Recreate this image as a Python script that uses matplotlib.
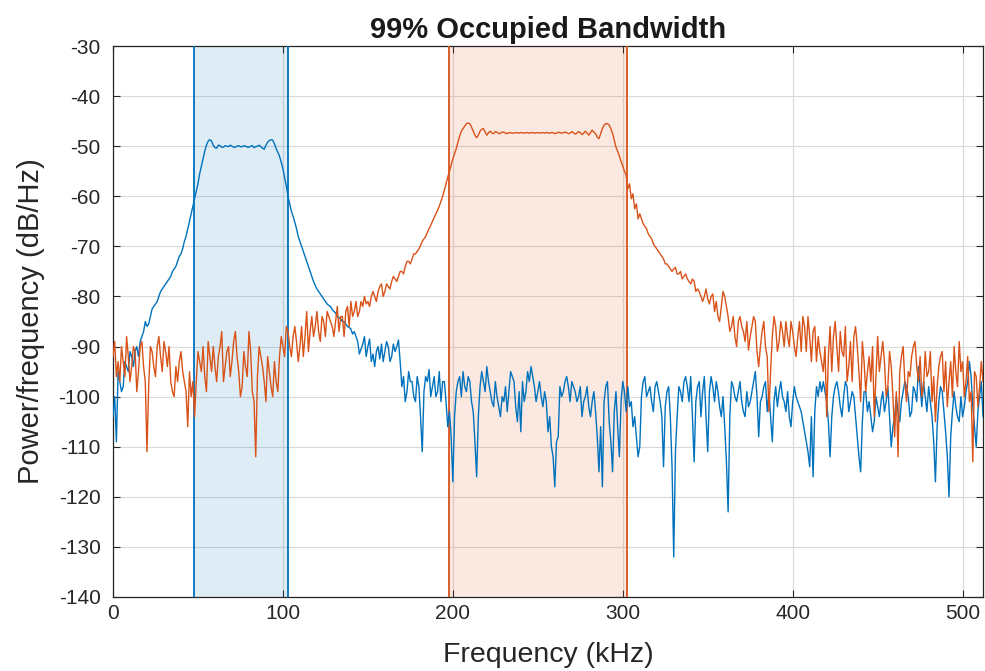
import numpy as np
import matplotlib
matplotlib.use("Agg")
import matplotlib.pyplot as plt

# frequency grid in kHz (1 kHz spacing, 0..512)
freq_khz = np.arange(0, 513)

# PSD of the low-band signal (dB/Hz) at even kHz: 0, 2, ..., 512
psd_low_even = [
    -104, -109, -97, -98, -94, -91, -94, -90, -89, -87,
    -86, -84, -82, -81, -79, -78, -77, -76, -74.5, -73,
    -71.5, -69, -66.5, -63.5, -60.5, -57.5, -54, -51, -49, -49,
    -50.3, -49.8, -50.2, -49.9, -50.1, -50.0, -50.2, -49.9, -50.1, -50.0,
    -50.2, -49.9, -50.1, -49.8, -50.4, -49.8, -48.9, -48.8, -50.5, -52,
    -54.5, -58, -61.5, -64, -66.5, -69, -71, -73, -75, -77,
    -78.5, -79.5, -80.5, -81.5, -82, -83, -84, -84.5, -85, -86,
    -86.5, -87, -89, -90.5, -88, -90, -93, -94, -90, -89.5,
    -91, -90, -92, -91, -88.7, -98, -101, -95, -97, -101,
    -98, -111, -96, -94.6, -98, -100, -95, -97, -101, -103,
    -117, -99, -96, -95, -99, -97, -103, -116, -98, -97,
    -94, -99, -102, -100, -104, -101, -103, -95, -97, -105,
    -107, -101, -95, -94, -98, -99, -100, -99, -107, -110,
    -118, -108, -100, -97, -98, -97, -99, -100, -104, -100,
    -102, -101, -103, -115, -118, -98, -105, -115, -99, -112,
    -97, -103, -102, -106, -108, -110, -97, -100, -98, -103,
    -97, -101, -114, -99, -104, -132, -104, -99, -97, -98,
    -96, -113, -98, -104, -96, -111, -96, -101, -99, -104,
    -106, -123, -97, -100, -99, -101, -104, -102, -99, -95,
    -108, -100, -97, -99, -109, -98, -99, -100, -103, -104,
    -101, -100, -102, -105, -109, -114, -116, -98, -97, -97,
    -101, -112, -100, -97, -102, -100, -98, -101, -100, -108,
    -115, -99, -103, -104, -105, -102, -101, -103, -98, -110,
    -104, -103, -101, -97, -100, -103, -99, -94, -102, -100,
    -98, -104, -117, -101, -99, -107, -120, -103, -102, -105,
    -104, -99, -93, -102, -110, -100, -104,
]

# low-band PSD at odd kHz: 1, 3, ..., 511
psd_low_odd = [
    -100, -95, -99, -93, -95, -92, -91, -92, -88, -85,
    -85.5, -82.5, -81.5, -80, -78.5, -77.5, -76.5, -75, -74, -72,
    -70.5, -68, -65, -62, -59, -55.5, -52.5, -49.8, -48.7, -49.8,
    -50.4, -49.9, -50.2, -50.0, -49.8, -50.2, -50.0, -50.1, -49.9, -50.2,
    -50.0, -50.3, -50.0, -50.1, -50.6, -49.2, -48.7, -49.5, -51.2, -53.2,
    -56.2, -60, -63, -65.2, -68, -70, -72, -74, -76, -77.8,
    -79, -80, -81, -81.8, -82.6, -83.3, -84.2, -85, -85.5, -86.2,
    -87.5, -88, -91.5, -89.5, -92, -88.5, -91.5, -91, -92.5, -93,
    -89, -93, -89.5, -90, -93, -96, -99, -97, -100, -96,
    -104, -99, -97, -100, -96, -99, -101, -97, -106, -108,
    -104, -97, -100, -98, -96, -101, -109, -104, -95, -99,
    -97, -101, -97, -102, -100, -98, -99, -96, -102, -99,
    -97, -99, -97, -96, -101, -97, -102, -101, -104, -112,
    -109, -98, -99, -96, -101, -98, -101, -98, -101, -98,
    -104, -99, -108, -106, -101, -97, -109, -103, -106, -101,
    -99, -98, -101, -104, -112, -100, -96, -99, -101, -98,
    -99, -104, -102, -98, -114, -111, -98, -101, -96, -101,
    -104, -101, -97, -99, -104, -99, -98, -97, -102, -100,
    -113, -104, -98, -101, -97, -103, -99, -101, -97, -100,
    -101, -98, -103, -104, -101, -102, -97, -101, -99, -106,
    -98, -101, -103, -107, -111, -104, -103, -100, -99, -99,
    -105, -104, -98, -99, -104, -97, -103, -99, -104, -112,
    -105, -99, -101, -107, -100, -104, -99, -101, -104, -106,
    -100, -105, -99, -98, -104, -98, -101, -98, -97, -103,
    -101, -109, -106, -98, -103, -112, -108, -99, -104, -100,
    -102, -97, -96, -106, -103, -97,
]

# PSD of the high-band signal (dB/Hz) at even kHz
psd_high_even = [
    -92, -96, -97, -93, -88, -97, -90, -99, -90, -94,
    -111, -90, -94, -90, -92, -89, -94, -97, -100, -97,
    -91, -97, -106, -100, -104, -91, -95, -96, -89, -95,
    -94, -92, -87, -94, -90, -93, -87, -95, -98, -94,
    -87, -99, -112, -90, -94, -101, -95, -100, -97, -92,
    -90, -86, -90, -88, -89, -90, -92, -83, -87, -88,
    -83, -89, -85, -83, -85, -88, -82, -84, -88, -82,
    -81, -83, -84, -81, -80, -81, -80, -80, -79, -77.5,
    -79, -78, -77, -76.5, -76, -75, -74, -73, -72.5, -71.5,
    -70.5, -69, -68, -66.5, -65, -63.5, -62, -60, -57.5, -55,
    -52.5, -50.5, -48, -46.5, -45.5, -45.5, -47, -48.3, -47, -46.5,
    -47.8, -47, -47.5, -47.2, -47.4, -47.2, -47.5, -47.3, -47.4, -47.3,
    -47.3, -47.4, -47.3, -47.3, -47.4, -47.3, -47.3, -47.4, -47.3, -47.3,
    -47.5, -47.2, -47.4, -47.2, -47.5, -47.1, -47.6, -47.1, -47.7, -47,
    -47.8, -46.8, -47.5, -48.5, -46.5, -45.5, -45.8, -47.5, -50.2, -52,
    -54, -55.8, -57.5, -59.5, -61.5, -63.5, -65.5, -66.5, -68, -69.5,
    -70.5, -71.5, -72.5, -73.5, -74.5, -74.5, -75.5, -75, -76, -76.5,
    -77.5, -77, -78.5, -80, -80, -80.5, -80, -83, -84, -82,
    -80, -84, -86, -88, -85, -86, -89, -90.7, -86, -85,
    -94, -87, -90, -103, -88, -86, -89, -87, -85, -90,
    -87, -92, -85, -84, -91, -88, -87, -93, -91, -95,
    -104, -86, -88, -90, -87, -92, -97, -89, -88, -90,
    -101, -93, -95, -97, -104, -88, -92, -93, -98, -94,
    -108, -112, -92, -97, -95, -92, -89, -97, -100, -91,
    -95, -101, -105, -94, -91, -93, -97, -100, -95, -89,
    -93, -97, -101, -113, -96, -98, -97,
]

# high-band PSD at odd kHz
psd_high_odd = [
    -89, -93, -90, -96, -92, -94, -91, -95, -89, -97,
    -98, -91, -96, -88, -95, -91, -90, -99, -94, -93,
    -95, -99, -95, -97, -97, -93, -90, -99, -92, -90,
    -97, -90, -97, -91, -96, -89, -92, -100, -91, -96,
    -91, -101, -96, -92, -97, -92, -98, -93, -99, -88,
    -92, -87, -92, -86, -93, -86, -88, -91, -84, -86,
    -87, -84, -88, -84, -86, -85, -87, -84, -83, -86,
    -84, -81, -83, -82, -81.5, -82, -79, -81, -78, -80,
    -77.5, -78.5, -76, -77, -75, -75.5, -73, -73.5, -71.5, -71,
    -69.8, -68.5, -67.2, -65.8, -64.3, -62.8, -61, -58.8, -56.2, -53.8,
    -51.5, -49.2, -47, -46, -45.4, -46.2, -47.8, -47.8, -46.6, -47.2,
    -47.3, -47.4, -47.1, -47.5, -47.2, -47.4, -47.3, -47.4, -47.3, -47.4,
    -47.3, -47.3, -47.4, -47.3, -47.3, -47.4, -47.3, -47.3, -47.4, -47.3,
    -47.4, -47.3, -47.3, -47.3, -47.4, -47.3, -47.4, -47.3, -47.4, -47.4,
    -47.3, -47.2, -48.2, -47.5, -45.8, -45.5, -46.5, -48.8, -51, -53,
    -55, -58.5, -60.5, -62.5, -64.5, -64.5, -66, -67.5, -68.5, -70,
    -71, -72, -73.5, -74, -75, -74.2, -75.5, -76.5, -75.5, -77,
    -76.5, -79, -79, -81, -78.5, -81.5, -79.5, -81, -85, -79,
    -82, -87, -84, -90, -84, -87, -85, -88, -84, -91,
    -90, -85, -92, -95, -84, -91, -85, -90, -88, -85,
    -90, -88, -91, -86, -84, -93, -86, -88, -93, -90,
    -92, -95, -85, -95, -91, -86, -94, -97, -86, -95,
    -89, -99, -92, -90, -96, -95, -89, -100, -91, -100,
    -99, -95, -90, -101, -96, -90, -94, -92, -98, -96,
    -91, -96, -98, -92, -99, -102, -93, -90, -98, -95,
    -100, -92, -99, -95, -102, -93,
]

# 99% occupied bandwidth edges, kHz
band_low = (47.6, 102.8)
band_high = (197.9, 302.6)

BLUE = "#0072BD"
ORANGE = "#D95319"
AXIS_GRAY = "#262626"


def interleave(even, odd):
    values = np.empty(len(even) + len(odd))
    values[0::2] = even
    values[1::2] = odd
    return values


psd_low = interleave(psd_low_even, psd_low_odd)
psd_high = interleave(psd_high_even, psd_high_odd)

plt.rcParams["font.family"] = ["Liberation Sans", "DejaVu Sans"]
plt.rcParams["axes.unicode_minus"] = False

fig = plt.figure(figsize=(9.85, 6.71), dpi=100, facecolor="white")
ax = fig.add_axes([113 / 985, 74 / 671, 870 / 985, 551 / 671])

for (f1, f2), color in ((band_low, BLUE), (band_high, ORANGE)):
    ax.axvspan(f1, f2, facecolor=color, alpha=0.13, edgecolor="none", zorder=1)
    ax.axvline(f1, color=color, linewidth=1.3, zorder=3)
    ax.axvline(f2, color=color, linewidth=1.3, zorder=3)

ax.plot(freq_khz, psd_low, color=BLUE, linewidth=1.0, zorder=4)
ax.plot(freq_khz, psd_high, color=ORANGE, linewidth=1.0, zorder=4)

ax.set_xlim(0, 512)
ax.set_ylim(-140, -30)
ax.set_xticks(np.arange(0, 501, 100))
ax.set_yticks(np.arange(-140, -29, 10))

ax.grid(True, color="#d9d9d9", linewidth=0.8, zorder=0)
ax.set_axisbelow(True)
for spine in ax.spines.values():
    spine.set_color(AXIS_GRAY)
    spine.set_linewidth(0.9)
ax.tick_params(direction="in", length=5, width=0.8, colors=AXIS_GRAY,
               labelsize=15, top=True, right=True)
ax.tick_params(axis="x", pad=5)
ax.tick_params(axis="y", pad=9)

ax.set_xlabel("Frequency (kHz)", fontsize=20.5, color=AXIS_GRAY, labelpad=14)
ax.set_ylabel("Power/frequency (dB/Hz)", fontsize=21, color=AXIS_GRAY, labelpad=10)
ax.set_title("99% Occupied Bandwidth", fontsize=21, fontweight="bold",
             color="#1a1a1a", pad=6)

fig.savefig("out.png", dpi=100)
